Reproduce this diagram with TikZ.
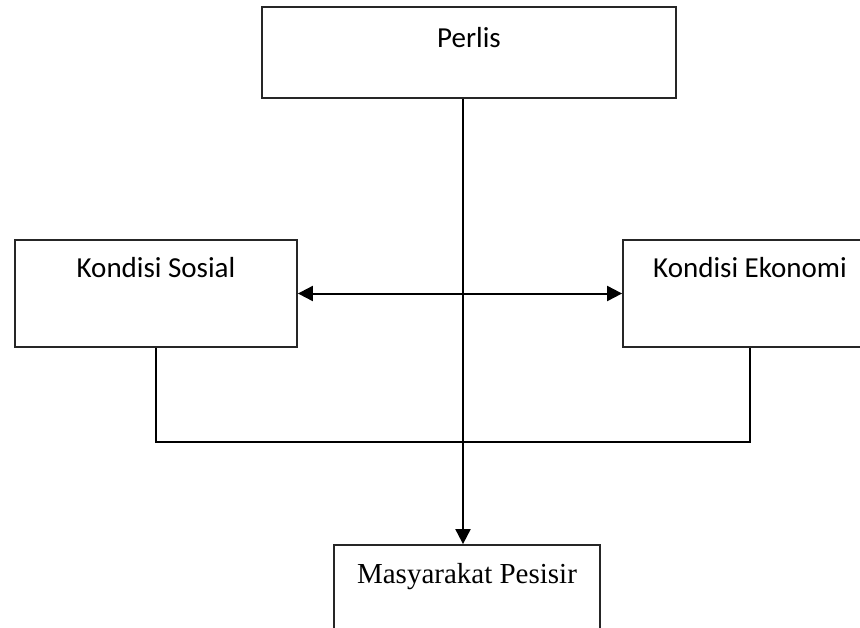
\documentclass[tikz,border=0pt]{standalone}
\usepackage{fontspec}
\setmainfont{Carlito}
\newfontfamily\timesfont{Liberation Serif}
\usetikzlibrary{arrows.meta}

\begin{document}
\begin{tikzpicture}[x=0.5pt, y=-0.5pt,
    >={Triangle[length=7.5pt,width=7.5pt]},
    every node/.style={font=\fontsize{14.5pt}{17pt}\selectfont},
    boxnode/.style={draw=black!85, line width=0.9pt, fill=white, inner ysep=0pt},
    link/.style={draw=black, line width=1pt}]

\useasboundingbox (0,0) rectangle (860,627);
\clip (0,0) rectangle (860,627);

% ===================== BOXES =====================
\node[boxnode, minimum width=207pt, text height=20pt, text depth=25.5pt] (perlis) at (469,52.5) {Perlis};

\node[boxnode, minimum width=141pt, text height=18.5pt, text depth=35pt] (sosial) at (156,293.5) {Kondisi Sosial};
\node[boxnode, minimum width=127pt, text height=18.5pt, text depth=35pt] (ekonomi) at (750,293.5) {Kondisi Ekonomi};

\node[boxnode, minimum width=133pt, text height=19pt, text depth=33.5pt,
      font=\timesfont\fontsize{14.5pt}{17pt}\selectfont] (pesisir) at (467,597.5) {Masyarakat Pesisir};

% ===================== CONNECTORS =====================
\coordinate (gabung) at (463,442);

% sosial <-> ekonomi
\draw[link, <->] (sosial.east) -- (ekonomi.west);

% bottom bracket joining both conditions
\draw[link] (sosial.south) |- (gabung) -| (ekonomi.south);

% perlis down to masyarakat pesisir
\draw[link, ->] ([xshift=-3pt]perlis.south) -- ([xshift=-3pt]perlis.south |- pesisir.north);

\end{tikzpicture}
\end{document}
